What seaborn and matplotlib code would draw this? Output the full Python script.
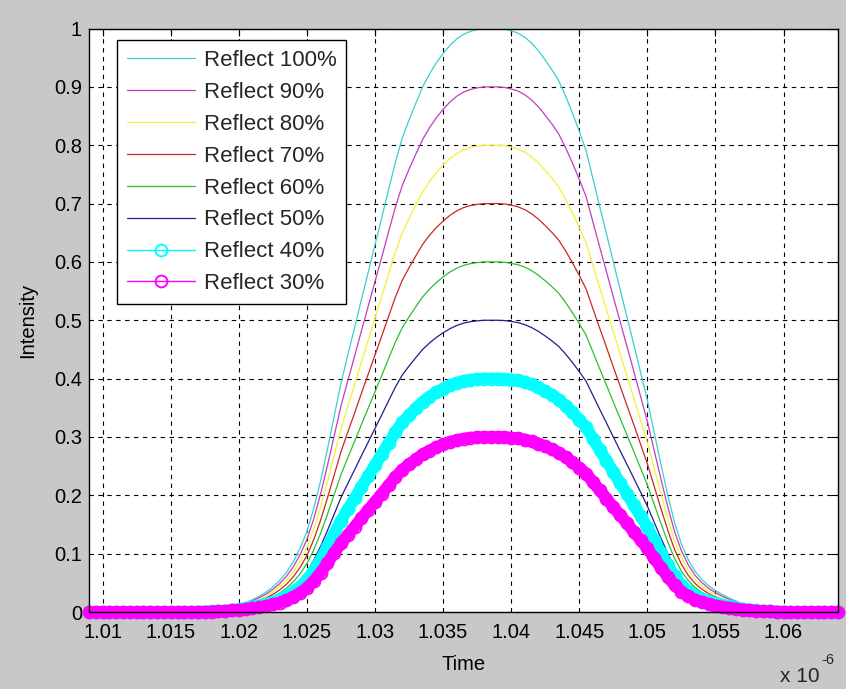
import numpy as np
import pandas as pd
import matplotlib
matplotlib.use("Agg")
import matplotlib.pyplot as plt
import seaborn as sns

# ---------------- data (time in units of 1e-6 s) ----------------
TIME_US = np.round(np.linspace(1.009, 1.064, 111), 4)

# normalised pulse shape, one value per time sample
PULSE = [
    0, 0, 0, 0, 0, 0, 0, 0, 0, 0, 0, 0, 0, 0,
    0.0, 0.0005, 0.001, 0.0015, 0.0025, 0.004, 0.006, 0.009, 0.012, 0.016,
    0.021, 0.027, 0.034, 0.043, 0.054, 0.068, 0.086, 0.109, 0.138, 0.177,
    0.224, 0.278, 0.335, 0.392, 0.440, 0.487, 0.535, 0.582, 0.629, 0.676,
    0.724, 0.771, 0.812, 0.843, 0.872, 0.900, 0.922, 0.941, 0.957, 0.971,
    0.982, 0.990, 0.995, 0.998, 1.000, 1.000, 1.000, 0.999, 0.996, 0.992,
    0.985, 0.975, 0.962, 0.946, 0.929, 0.910, 0.884, 0.855, 0.824, 0.791,
    0.743, 0.695, 0.648, 0.600, 0.553, 0.506, 0.459, 0.411, 0.363, 0.308,
    0.253, 0.200, 0.153, 0.117, 0.090, 0.070, 0.056, 0.045, 0.037, 0.030,
    0.024, 0.019, 0.014, 0.010, 0.007, 0.0045, 0.003, 0.0015, 0.001, 0.0005,
    0, 0, 0, 0, 0, 0, 0,
]

REFLECT = [100, 90, 80, 70, 60, 50, 40, 30]
LABELS = [f"Reflect {r}%" for r in REFLECT]
COLORS = ["#3ccfcf", "#c23cc2", "#f2f233", "#c82828", "#2cbf2c", "#1e1e8c",
          "#00ffff", "#ff00ff"]
MARKED = [False, False, False, False, False, False, True, True]

X_TICKS = [1.01, 1.015, 1.02, 1.025, 1.03, 1.035, 1.04, 1.045, 1.05, 1.055, 1.06]
X_TICK_LABELS = ["1.01", "1.015", "1.02", "1.025", "1.03", "1.035", "1.04",
                 "1.045", "1.05", "1.055", "1.06"]
Y_TICKS = [0, 0.1, 0.2, 0.3, 0.4, 0.5, 0.6, 0.7, 0.8, 0.9, 1.0]
Y_TICK_LABELS = ["0", "0.1", "0.2", "0.3", "0.4", "0.5", "0.6", "0.7", "0.8",
                 "0.9", "1"]

rows = []
for r, lab in zip(REFLECT, LABELS):
    for t, p in zip(TIME_US, PULSE):
        rows.append({"Time": t, "Intensity": r / 100.0 * p, "series": lab})
df = pd.DataFrame(rows)

# ---------------- style ----------------
sns.set_style("white")
plt.rcParams["font.family"] = ["Liberation Sans", "DejaVu Sans"]

BG = "#c8c8c8"
W, H = 846, 689
fig = plt.figure(figsize=(W / 100, H / 100), dpi=100, facecolor=BG)
ax_l, ax_r, ax_t, ax_b = 89, 838, 28.5, 612
ax = fig.add_axes([ax_l / W, 1 - ax_b / H, (ax_r - ax_l) / W, (ax_b - ax_t) / H])
ax.set_facecolor("white")

handles = []
for lab, col, mk in zip(LABELS, COLORS, MARKED):
    sub = df[df["series"] == lab]
    if mk:
        # dense overlapping hollow circles form a thick band
        sns.lineplot(data=sub, x="Time", y="Intensity", ax=ax, color=col,
                     linewidth=8.5, estimator=None, sort=False, legend=False,
                     clip_on=False, zorder=3, solid_capstyle="round")
        sns.lineplot(data=sub, x="Time", y="Intensity", ax=ax, color=col,
                     linewidth=1.0, marker="o", markersize=8.5,
                     markerfacecolor="none", markeredgecolor=col,
                     markeredgewidth=1.4, estimator=None, sort=False,
                     label=lab, legend=False, clip_on=False, zorder=3)
    else:
        sns.lineplot(data=sub, x="Time", y="Intensity", ax=ax, color=col,
                     linewidth=0.9, estimator=None, sort=False, label=lab,
                     legend=False, zorder=2)
    handles.append(ax.lines[-1])

ax.set_xlim(1.009, 1.064)
ax.set_ylim(0, 1)
ax.set_xticks(X_TICKS)
ax.set_xticklabels(X_TICK_LABELS)
ax.set_yticks(Y_TICKS)
ax.set_yticklabels(Y_TICK_LABELS)

ax.grid(True, color="black", linestyle=(0, (4, 4)), linewidth=0.8)
ax.set_axisbelow(True)
ax.tick_params(axis="both", direction="in", length=5, width=0.8, color="black",
               labelsize=14.5, top=True, right=True, labelcolor="black")
ax.tick_params(axis="x", pad=8)
ax.tick_params(axis="y", pad=5)
for s in ax.spines.values():
    s.set_visible(True)
    s.set_color("black")
    s.set_linewidth(1.0)
    s.set_zorder(4)

ax.set_xlabel("Time", fontsize=14.5, labelpad=9, color="black")
ax.set_ylabel("Intensity", fontsize=14.5, labelpad=12, color="black")

leg = ax.legend(handles, LABELS, loc="upper left",
                bbox_to_anchor=((117 - ax_l) / (ax_r - ax_l),
                                (ax_b - 40) / (ax_b - ax_t)),
                borderaxespad=0, frameon=True, fancybox=False,
                edgecolor="black", framealpha=1, fontsize=16,
                handlelength=3.05, handletextpad=0.4, labelspacing=0.49,
                borderpad=0.45)
leg.get_frame().set_linewidth(1.0)
leg.set_zorder(5)

# MATLAB-style exponent note
fig.text(780 / W, 1 - 676 / H, "x 10", fontsize=15, ha="left", va="center")
fig.text(821 / W, 1 - 660 / H, "-6", fontsize=10.5, ha="left", va="center")

fig.savefig("out.png", dpi=100, facecolor=BG)
